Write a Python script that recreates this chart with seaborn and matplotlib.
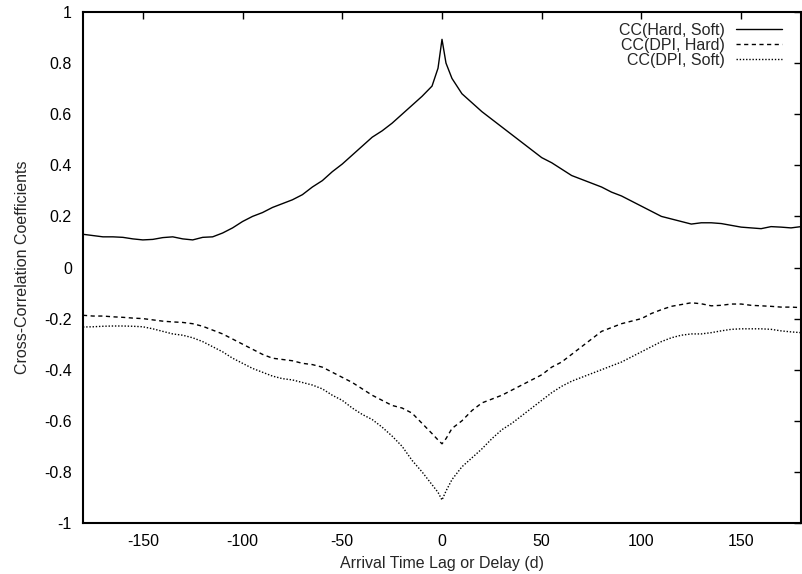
import numpy as np
import pandas as pd
import seaborn as sns
import matplotlib
matplotlib.use("Agg")
import matplotlib.pyplot as plt

lags = [-180, -175, -170, -165, -160, -155, -150, -145, -140, -135, -130, -125,
        -120, -115, -110, -105, -100, -95, -90, -85, -80, -75, -70, -65, -60,
        -55, -50, -45, -40, -35, -30, -25, -20, -15, -10, -5, -2, 0, 2, 5, 10,
        15, 20, 25, 30, 35, 40, 45, 50, 55, 60, 65, 70, 75, 80, 85, 90, 95, 100,
        105, 110, 115, 120, 125, 130, 135, 140, 145, 150, 155, 160, 165, 170,
        175, 180]

cc_hard_soft = [0.13, 0.125, 0.12, 0.12, 0.118, 0.112, 0.108, 0.11, 0.117, 0.12,
                0.112, 0.108, 0.118, 0.12, 0.135, 0.155, 0.18, 0.20, 0.215, 0.235,
                0.25, 0.265, 0.285, 0.315, 0.34, 0.375, 0.405, 0.44, 0.475, 0.51,
                0.535, 0.565, 0.60, 0.635, 0.67, 0.71, 0.78, 0.893, 0.80, 0.74,
                0.68, 0.645, 0.61, 0.58, 0.55, 0.52, 0.49, 0.46, 0.43, 0.41,
                0.385, 0.36, 0.345, 0.33, 0.315, 0.295, 0.28, 0.26, 0.24, 0.22,
                0.20, 0.19, 0.18, 0.17, 0.175, 0.175, 0.172, 0.165, 0.158, 0.155,
                0.152, 0.16, 0.158, 0.155, 0.16]

cc_dpi_hard = [-0.187, -0.19, -0.19, -0.193, -0.195, -0.198, -0.20, -0.205, -0.21,
               -0.213, -0.215, -0.22, -0.23, -0.245, -0.26, -0.28, -0.30, -0.32,
               -0.34, -0.355, -0.36, -0.365, -0.375, -0.38, -0.39, -0.41, -0.43,
               -0.45, -0.475, -0.50, -0.52, -0.54, -0.55, -0.57, -0.61, -0.65,
               -0.675, -0.69, -0.67, -0.63, -0.60, -0.56, -0.53, -0.515, -0.50,
               -0.48, -0.46, -0.44, -0.42, -0.39, -0.37, -0.34, -0.31, -0.28,
               -0.25, -0.235, -0.22, -0.21, -0.20, -0.18, -0.165, -0.152, -0.145,
               -0.138, -0.142, -0.15, -0.148, -0.143, -0.143, -0.148, -0.15,
               -0.152, -0.155, -0.155, -0.157]

cc_dpi_soft = [-0.233, -0.232, -0.23, -0.229, -0.229, -0.23, -0.232, -0.24, -0.25,
               -0.26, -0.265, -0.275, -0.29, -0.31, -0.33, -0.355, -0.375, -0.395,
               -0.41, -0.425, -0.435, -0.44, -0.45, -0.46, -0.475, -0.50, -0.52,
               -0.55, -0.575, -0.595, -0.625, -0.66, -0.70, -0.755, -0.80, -0.85,
               -0.88, -0.91, -0.875, -0.83, -0.78, -0.745, -0.71, -0.67, -0.635,
               -0.61, -0.58, -0.55, -0.52, -0.49, -0.465, -0.445, -0.43, -0.415,
               -0.40, -0.385, -0.37, -0.35, -0.33, -0.31, -0.29, -0.275, -0.265,
               -0.26, -0.26, -0.255, -0.248, -0.242, -0.24, -0.24, -0.24, -0.242,
               -0.248, -0.252, -0.255]

series_names = ["CC(Hard, Soft)", "CC(DPI, Hard)", "CC(DPI, Soft)"]
x_ticks = [-150, -100, -50, 0, 50, 100, 150]
y_ticks = [-1, -0.8, -0.6, -0.4, -0.2, 0, 0.2, 0.4, 0.6, 0.8, 1]
y_tick_labels = ["-1", "-0.8", "-0.6", "-0.4", "-0.2", "0", "0.2", "0.4", "0.6", "0.8", "1"]

sns.set_style("white")
plt.rcParams["font.family"] = ["Liberation Sans", "DejaVu Sans"]
FS = 11.5
plt.rcParams["font.size"] = FS

df = pd.DataFrame({
    "lag": lags * 3,
    "cc": cc_hard_soft + cc_dpi_hard + cc_dpi_soft,
    "series": [series_names[0]] * len(lags) + [series_names[1]] * len(lags)
              + [series_names[2]] * len(lags),
})

fig = plt.figure(figsize=(8.02, 5.74), dpi=100)
ax = fig.add_axes([83 / 802, 1 - 523 / 574, 718 / 802, 511 / 574])

styles = ["-", (0, (3, 2.5)), (0, (1, 1.3))]
for name, ls in zip(series_names, styles):
    sub = df[df["series"] == name]
    sns.lineplot(data=sub, x="lag", y="cc", ax=ax, color="black", linewidth=1.0,
                 linestyle=ls, label=name, estimator=None, sort=True)

ax.set_xlim(-180, 180)
ax.set_ylim(-1, 1)
ax.set_xticks(x_ticks)
ax.set_xticklabels([str(t) for t in x_ticks])
ax.set_yticks(y_ticks)
ax.set_yticklabels(y_tick_labels)
ax.tick_params(direction="in", length=5, width=1, top=True, right=True,
               labelsize=FS, pad=8, colors="black")
for s in ax.spines.values():
    s.set_linewidth(1.5)
    s.set_color("black")
ax.set_xlabel("Arrival Time Lag or Delay (d)", fontsize=FS, labelpad=5)
ax.set_ylabel("Cross-Correlation Coefficients", fontsize=FS, labelpad=10)

leg = ax.legend(loc="upper right", frameon=False, markerfirst=False,
                handlelength=2.9, handletextpad=0.7, labelspacing=0.0,
                fontsize=FS, borderaxespad=0.6,
                bbox_to_anchor=(1 - 3 / 718, 1 + 5 / 511))

fig.savefig("out.png", dpi=100)
